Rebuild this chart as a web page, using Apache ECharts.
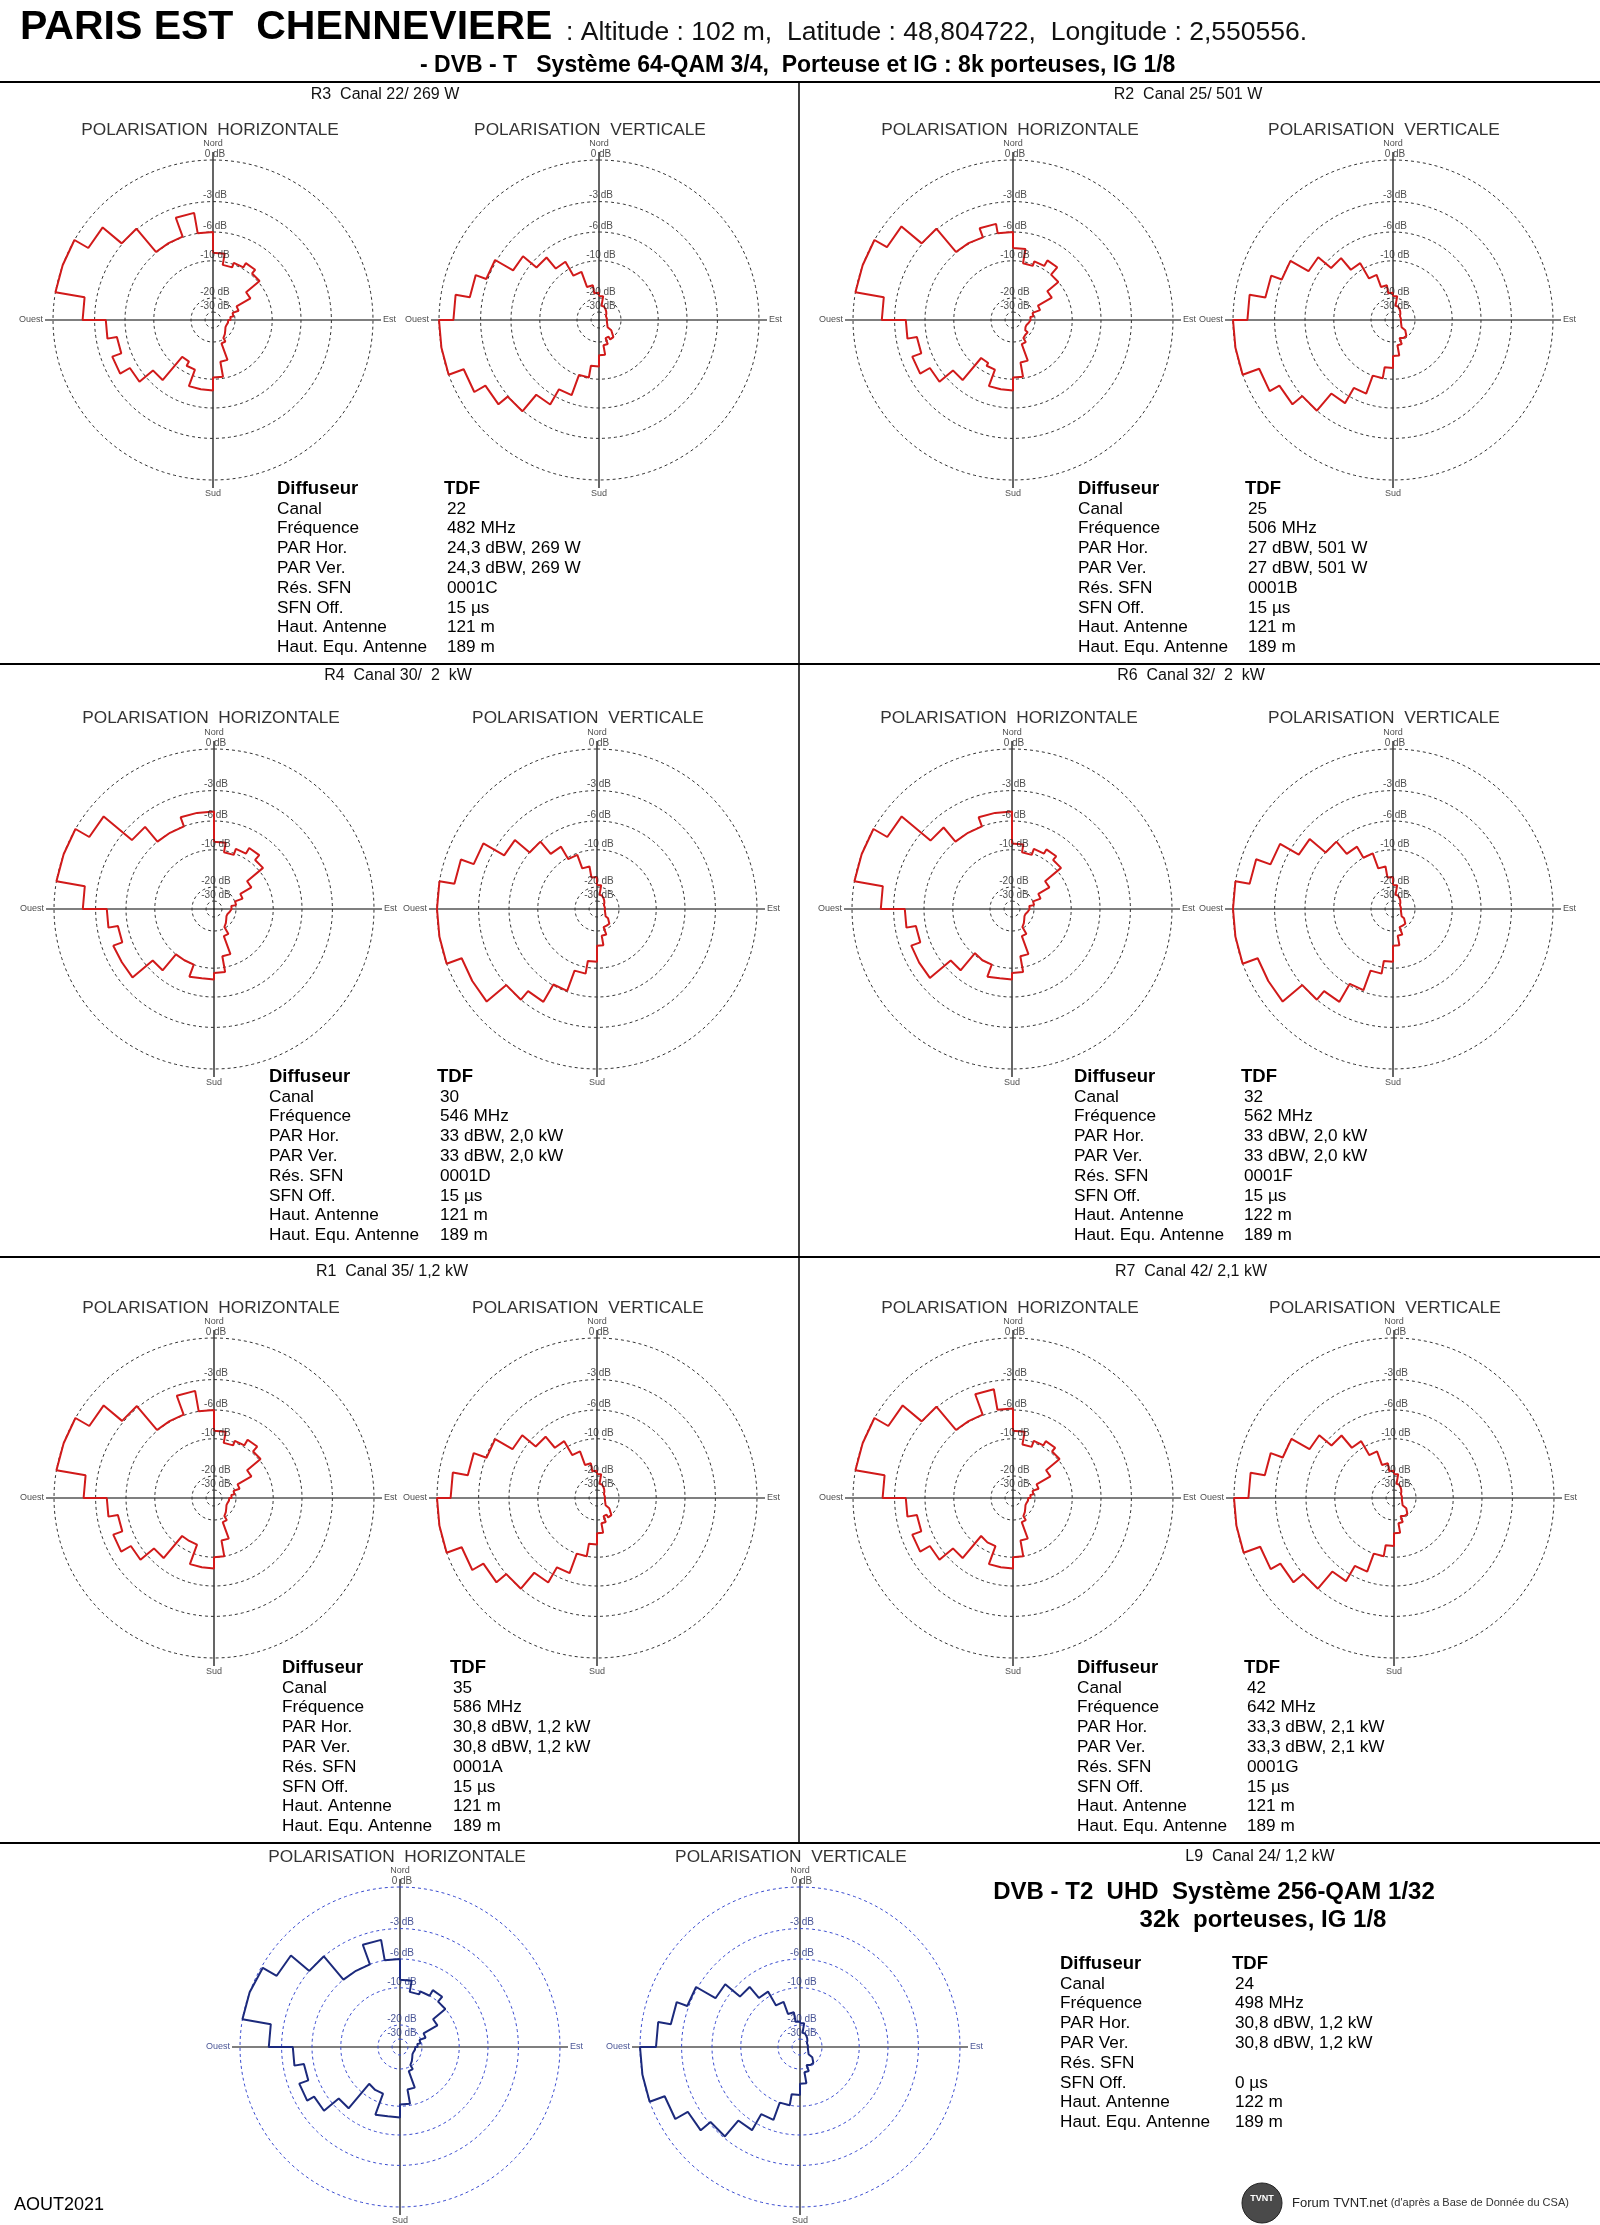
<!DOCTYPE html>
<html>
<head>
<meta charset="utf-8">
<script src="https://cdn.jsdelivr.net/npm/echarts@6/dist/echarts.min.js"></script>
<style>
html, body { margin: 0; padding: 0; background: #fff; }
#main { width: 1600px; height: 2225px; }
</style>
</head>
<body>
<div id="main"></div>
<script>
// secteurs de 10 degres, en partant du Nord, sens horaire
var sectorAngles = [0, 10, 20, 30, 40, 50, 60, 70, 80, 90, 100, 110, 120, 130, 140, 150, 160, 170,
    180, 190, 200, 210, 220, 230, 240, 250, 260, 270, 280, 290, 300, 310, 320, 330, 340, 350];

// cercles de reference (rayon relatif, 1 = 0 dB)
var ringLevels = ['0 dB', '-3 dB', '-6 dB', '-10 dB', '-20 dB', '-30 dB'];
var ringRadius = [1, 0.74, 0.55, 0.37, 0.1375, 0.05];
var compassNames = ['Nord', 'Est', 'Sud', 'Ouest'];
var compassAngles = [0, 90, 180, 270];

// diagrammes, une valeur par secteur (rayon relatif)
var hR3 = [0.42, 0.35, 0.38, 0.41, 0.38, 0.27, 0.17, 0.13, 0.11, 0.095, 0.09, 0.09, 0.10, 0.115, 0.13, 0.155, 0.265, 0.36,
    0.44, 0.44, 0.33, 0.30, 0.49, 0.60, 0.67, 0.61, 0.67, 0.815, 1.0, 1.0, 0.90, 0.745, 0.555, 0.555, 0.68, 0.55];
var vR3 = [0.15, 0.09, 0.08, 0.07, 0.06, 0.05, 0.05, 0.05, 0.05, 0.05, 0.05, 0.06, 0.07, 0.10, 0.14, 0.12, 0.16, 0.22,
    0.29, 0.365, 0.50, 0.61, 0.745, 0.82, 0.90, 1.0, 1.0, 0.91, 0.82, 0.75, 0.62, 0.51, 0.42, 0.32, 0.22, 0.17];
var hR2 = [0.45, 0.36, 0.39, 0.43, 0.37, 0.28, 0.18, 0.13, 0.11, 0.10, 0.09, 0.09, 0.10, 0.12, 0.13, 0.16, 0.27, 0.36,
    0.44, 0.44, 0.33, 0.31, 0.49, 0.60, 0.67, 0.61, 0.67, 0.82, 1.0, 1.0, 0.91, 0.745, 0.555, 0.55, 0.61, 0.55];
var vR2 = [0.15, 0.09, 0.08, 0.07, 0.06, 0.05, 0.05, 0.05, 0.05, 0.05, 0.05, 0.06, 0.07, 0.10, 0.13, 0.12, 0.16, 0.225,
    0.30, 0.37, 0.49, 0.60, 0.74, 0.82, 0.89, 1.0, 1.0, 0.91, 0.81, 0.74, 0.61, 0.505, 0.41, 0.30, 0.22, 0.17];
var hR4 = [0.42, 0.36, 0.40, 0.44, 0.40, 0.27, 0.19, 0.14, 0.11, 0.10, 0.09, 0.09, 0.10, 0.115, 0.13, 0.18, 0.30, 0.40,
    0.44, 0.45, 0.37, 0.37, 0.50, 0.665, 0.67, 0.61, 0.67, 0.82, 1.0, 1.0, 0.90, 0.67, 0.55, 0.55, 0.61, 0.61];
var vR4 = [0.15, 0.09, 0.08, 0.07, 0.06, 0.05, 0.05, 0.05, 0.05, 0.05, 0.05, 0.06, 0.07, 0.09, 0.12, 0.12, 0.17, 0.23,
    0.33, 0.41, 0.545, 0.67, 0.74, 0.90, 0.90, 1.0, 1.0, 1.0, 0.905, 0.82, 0.67, 0.55, 0.45, 0.36, 0.27, 0.20];
var hR6 = [0.41, 0.36, 0.40, 0.43, 0.40, 0.27, 0.19, 0.14, 0.11, 0.10, 0.09, 0.09, 0.10, 0.115, 0.13, 0.18, 0.30, 0.40,
    0.44, 0.45, 0.37, 0.36, 0.50, 0.67, 0.67, 0.61, 0.67, 0.82, 1.0, 1.0, 0.90, 0.665, 0.55, 0.55, 0.61, 0.61];
var vR6 = [0.15, 0.09, 0.08, 0.07, 0.06, 0.05, 0.05, 0.05, 0.05, 0.05, 0.05, 0.06, 0.07, 0.09, 0.12, 0.12, 0.17, 0.23,
    0.33, 0.41, 0.54, 0.67, 0.74, 0.90, 0.90, 1.0, 1.0, 1.0, 0.91, 0.815, 0.68, 0.55, 0.45, 0.37, 0.27, 0.20];
var hR1 = [0.42, 0.35, 0.38, 0.42, 0.38, 0.27, 0.17, 0.13, 0.11, 0.095, 0.09, 0.09, 0.10, 0.115, 0.13, 0.16, 0.27, 0.37,
    0.44, 0.44, 0.31, 0.31, 0.49, 0.60, 0.67, 0.61, 0.67, 0.815, 1.0, 1.0, 0.90, 0.75, 0.555, 0.555, 0.68, 0.55];
var vR1 = [0.15, 0.09, 0.08, 0.07, 0.06, 0.05, 0.05, 0.05, 0.05, 0.05, 0.05, 0.06, 0.07, 0.10, 0.14, 0.12, 0.16, 0.22,
    0.29, 0.37, 0.50, 0.61, 0.74, 0.82, 0.90, 1.0, 1.0, 0.915, 0.82, 0.735, 0.61, 0.50, 0.41, 0.31, 0.22, 0.17];
var hR7 = [0.42, 0.34, 0.38, 0.41, 0.38, 0.27, 0.17, 0.13, 0.11, 0.095, 0.09, 0.09, 0.10, 0.115, 0.13, 0.16, 0.27, 0.37,
    0.44, 0.44, 0.32, 0.31, 0.49, 0.60, 0.67, 0.61, 0.67, 0.815, 1.0, 1.0, 0.90, 0.745, 0.555, 0.555, 0.69, 0.56];
var vR7 = [0.15, 0.09, 0.08, 0.07, 0.06, 0.05, 0.05, 0.05, 0.05, 0.05, 0.05, 0.06, 0.07, 0.10, 0.13, 0.12, 0.16, 0.22,
    0.30, 0.37, 0.49, 0.60, 0.74, 0.82, 0.89, 1.0, 1.0, 0.91, 0.82, 0.74, 0.61, 0.51, 0.41, 0.31, 0.22, 0.17];
var hL9 = [0.42, 0.35, 0.37, 0.41, 0.37, 0.27, 0.17, 0.13, 0.11, 0.095, 0.09, 0.09, 0.10, 0.115, 0.13, 0.16, 0.27, 0.36,
    0.44, 0.45, 0.31, 0.30, 0.50, 0.62, 0.67, 0.61, 0.67, 0.82, 1.0, 0.99, 0.89, 0.74, 0.55, 0.55, 0.68, 0.55];
var vL9 = [0.15, 0.09, 0.08, 0.07, 0.06, 0.05, 0.05, 0.05, 0.05, 0.05, 0.05, 0.06, 0.07, 0.10, 0.13, 0.12, 0.16, 0.23,
    0.30, 0.37, 0.485, 0.60, 0.73, 0.81, 0.90, 1.0, 1.0, 0.90, 0.82, 0.75, 0.61, 0.49, 0.40, 0.30, 0.22, 0.16];

var infoLabels = ['Diffuseur', 'Canal', 'Fréquence', 'PAR Hor.', 'PAR Ver.', 'Rés. SFN', 'SFN Off.', 'Haut. Antenne', 'Haut. Equ. Antenne'];
var infoR3 = ['TDF', '22', '482 MHz', '24,3 dBW, 269 W', '24,3 dBW, 269 W', '0001C', '15 µs', '121 m', '189 m'];
var infoR2 = ['TDF', '25', '506 MHz', '27 dBW, 501 W', '27 dBW, 501 W', '0001B', '15 µs', '121 m', '189 m'];
var infoR4 = ['TDF', '30', '546 MHz', '33 dBW, 2,0 kW', '33 dBW, 2,0 kW', '0001D', '15 µs', '121 m', '189 m'];
var infoR6 = ['TDF', '32', '562 MHz', '33 dBW, 2,0 kW', '33 dBW, 2,0 kW', '0001F', '15 µs', '122 m', '189 m'];
var infoR1 = ['TDF', '35', '586 MHz', '30,8 dBW, 1,2 kW', '30,8 dBW, 1,2 kW', '0001A', '15 µs', '121 m', '189 m'];
var infoR7 = ['TDF', '42', '642 MHz', '33,3 dBW, 2,1 kW', '33,3 dBW, 2,1 kW', '0001G', '15 µs', '121 m', '189 m'];
var infoL9 = ['TDF', '24', '498 MHz', '30,8 dBW, 1,2 kW', '30,8 dBW, 1,2 kW', '', '0 µs', '122 m', '189 m'];

var headerR3 = 'R3  Canal 22/ 269 W';
var headerR2 = 'R2  Canal 25/ 501 W';
var headerR4 = 'R4  Canal 30/  2  kW';
var headerR6 = 'R6  Canal 32/  2  kW';
var headerR1 = 'R1  Canal 35/ 1,2 kW';
var headerR7 = 'R7  Canal 42/ 2,1 kW';
var headerL9 = 'L9  Canal 24/ 1,2 kW';

var FONT = '"Liberation Sans", Arial, sans-serif';
var RED = '#d11a1a', NAVY = '#1c2a7c';

// mise en page des blocs
var panels = [
    {head: headerR3, h: hR3, v: vR3, info: infoR3, headPos: [385, 95], titleY: 130, hc: [213, 320], vc: [599, 320], infoPos: [277, 444, 489], color: RED, ring: '#333', axisText: '#222'},
    {head: headerR2, h: hR2, v: vR2, info: infoR2, headPos: [1188, 95], titleY: 130, hc: [1013, 320], vc: [1393, 320], infoPos: [1078, 1245, 489], color: RED, ring: '#333', axisText: '#222'},
    {head: headerR4, h: hR4, v: vR4, info: infoR4, headPos: [398, 676], titleY: 718, hc: [214, 909], vc: [597, 909], infoPos: [269, 437, 1077], color: RED, ring: '#333', axisText: '#222'},
    {head: headerR6, h: hR6, v: vR6, info: infoR6, headPos: [1191, 676], titleY: 718, hc: [1012, 909], vc: [1393, 909], infoPos: [1074, 1241, 1077], color: RED, ring: '#333', axisText: '#222'},
    {head: headerR1, h: hR1, v: vR1, info: infoR1, headPos: [392, 1272], titleY: 1308, hc: [214, 1498], vc: [597, 1498], infoPos: [282, 450, 1668], color: RED, ring: '#333', axisText: '#222'},
    {head: headerR7, h: hR7, v: vR7, info: infoR7, headPos: [1191, 1272], titleY: 1308, hc: [1013, 1498], vc: [1394, 1498], infoPos: [1077, 1244, 1668], color: RED, ring: '#333', axisText: '#222'},
    {head: headerL9, h: hL9, v: vL9, info: infoL9, headPos: [1260, 1857], titleY: 1857, hc: [400, 2047], vc: [800, 2047], infoPos: [1060, 1232, 1964], color: NAVY, ring: '#3a4ccf', axisText: '#1c2a7c'}
];

function stepOutline(values) {
    var pts = [];
    for (var i = 0; i < values.length; i++) {
        pts.push([values[i], sectorAngles[i]]);
        pts.push([values[i], sectorAngles[i] + 10]);
    }
    pts.push(pts[0]);
    return pts;
}

function ringPoints(r) {
    var pts = [];
    for (var a = 0; a <= 360; a += 2) pts.push([r, a]);
    return pts;
}

function txt(x, y, text, size, opt) {
    opt = opt || {};
    return {
        type: 'text', x: x, y: y, silent: true,
        style: {
            text: text, fill: opt.color || '#000', fontSize: size, fontFamily: opt.family || FONT,
            fontWeight: opt.weight || 'normal', align: opt.align || 'left', verticalAlign: opt.valign || 'middle'
        }
    };
}

var polar = [], angleAxis = [], radiusAxis = [], series = [], graphics = [];

function addDiagram(center, values, p) {
    var k = polar.length;
    polar.push({center: center, radius: 168});
    angleAxis.push({
        polarIndex: k, type: 'value', min: 0, max: 360, interval: 90, startAngle: 90, clockwise: true,
        axisLine: {show: false}, axisTick: {show: false}, axisLabel: {show: false},
        splitLine: {show: true, lineStyle: {color: '#000', width: 1.2}}
    });
    radiusAxis.push({
        polarIndex: k, type: 'value', min: 0, max: 1.05,
        axisLine: {show: false}, axisTick: {show: false}, axisLabel: {show: false}, splitLine: {show: false}
    });
    ringRadius.forEach(function (r) {
        series.push({
            type: 'line', coordinateSystem: 'polar', polarIndex: k, data: ringPoints(r),
            symbol: 'none', silent: true, z: 1,
            lineStyle: {color: p.ring, width: 1, type: [3, 3]}
        });
    });
    series.push({
        type: 'line', coordinateSystem: 'polar', polarIndex: k, data: stepOutline(values),
        symbol: 'none', silent: true, z: 3,
        lineStyle: {color: p.color, width: 2}
    });
    var labels = [];
    ringLevels.forEach(function (name, j) {
        labels.push({
            name: name, value: [ringRadius[j], 0],
            label: {position: 'top', distance: 1, offset: [2, 0], color: j === 0 ? '#222' : p.axisText}
        });
    });
    var compassPos = ['top', 'right', 'bottom', 'left'];
    var compassR = [1.0, 1.05, 1.03, 1.05];
    var compassDist = [12, 2, 4, 2];
    compassNames.forEach(function (name, j) {
        labels.push({
            name: name, value: [compassR[j], compassAngles[j]],
            label: {position: compassPos[j], distance: compassDist[j], fontSize: 9,
                color: (j === 1 || j === 3) ? p.axisText : '#222'}
        });
    });
    series.push({
        type: 'scatter', coordinateSystem: 'polar', polarIndex: k, data: labels,
        symbolSize: 0, silent: true, z: 4,
        label: {show: true, formatter: '{b}', fontSize: 10, fontFamily: FONT}
    });
}

panels.forEach(function (p) {
    addDiagram(p.hc, p.h, p);
    addDiagram(p.vc, p.v, p);
    graphics.push(txt(p.headPos[0], p.headPos[1], p.head, 16, {align: 'center', color: '#111'}));
    graphics.push(txt(p.hc[0] - 3, p.titleY, 'POLARISATION  HORIZONTALE', 17.3, {align: 'center', color: '#333'}));
    graphics.push(txt(p.vc[0] - 9, p.titleY, 'POLARISATION  VERTICALE', 17.3, {align: 'center', color: '#333'}));
    infoLabels.forEach(function (lab, i) {
        var y = p.infoPos[2] + i * 19.8;
        var bold = i === 0;
        graphics.push(txt(p.infoPos[0], y, lab, bold ? 18.5 : 17.2, {weight: bold ? 'bold' : 'normal'}));
        graphics.push(txt(p.infoPos[1] + (bold ? 0 : 3), y, p.info[i], bold ? 18.5 : 17.2, {weight: bold ? 'bold' : 'normal'}));
    });
});

// titres et cadres
graphics.push(txt(20, 28, 'PARIS EST  CHENNEVIERE', 41, {weight: 'bold'}));
graphics.push(txt(566, 33, ': Altitude : 102 m,  Latitude : 48,804722,  Longitude : 2,550556.', 26.5, {color: '#111'}));
graphics.push(txt(420, 66, '- DVB - T   Système 64-QAM 3/4,  Porteuse et IG : 8k porteuses, IG 1/8', 23, {weight: 'bold'}));
graphics.push(txt(1214, 1892, 'DVB - T2  UHD  Système 256-QAM 1/32', 24, {weight: 'bold', align: 'center'}));
graphics.push(txt(1263, 1920, '32k  porteuses, IG 1/8', 24, {weight: 'bold', align: 'center'}));
graphics.push(txt(14, 2205, 'AOUT2021', 18));
graphics.push({
    type: 'circle', shape: {cx: 1262, cy: 2203, r: 20}, silent: true,
    style: {fill: '#4a4a4a', stroke: '#222', lineWidth: 1}
});
graphics.push(txt(1262, 2199, 'TVNT', 9, {weight: 'bold', align: 'center', color: '#fff'}));
graphics.push({
    type: 'text', x: 1292, y: 2203, silent: true,
    style: {
        text: '{a|Forum TVNT.net} {b|(d\'après a Base de Donnée du CSA)}',
        verticalAlign: 'middle', fontFamily: FONT,
        rich: {a: {fontSize: 13, fill: '#222', fontFamily: FONT}, b: {fontSize: 11, fill: '#333', fontFamily: FONT}}
    }
});

var lineStyle = {stroke: '#000', lineWidth: 2};
[82, 664, 1257, 1843].forEach(function (y) {
    graphics.push({type: 'line', silent: true, shape: {x1: 0, y1: y, x2: 1600, y2: y}, style: lineStyle});
});
graphics.push({type: 'line', silent: true, shape: {x1: 799, y1: 82, x2: 799, y2: 1843}, style: {stroke: '#000', lineWidth: 1.5}});

var chart = echarts.init(document.getElementById('main'));
chart.setOption({
    animation: false,
    backgroundColor: '#fff',
    polar: polar,
    angleAxis: angleAxis,
    radiusAxis: radiusAxis,
    series: series,
    graphic: graphics
});
</script>
</body>
</html>
